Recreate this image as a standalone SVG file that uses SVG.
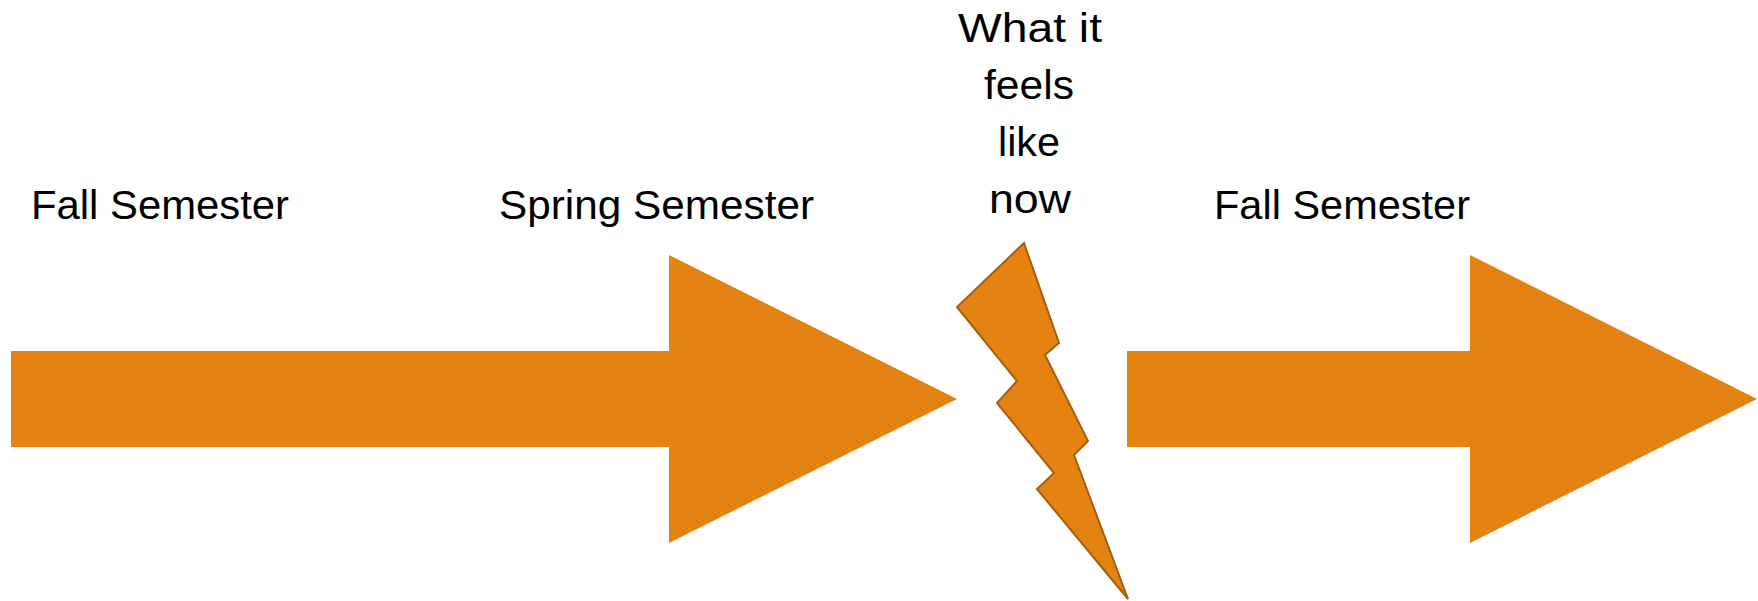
<svg xmlns="http://www.w3.org/2000/svg" width="1758" height="601" viewBox="0 0 1758 601">
<style>
.shape{fill:#E48312;stroke:none}
.bolt{fill:#E48312;stroke:#A65E0E;stroke-width:2;stroke-linejoin:miter}
.lbl{font-family:"Liberation Sans",Arial,sans-serif;font-size:41px;fill:#000}
.mid{text-anchor:middle}
</style>
<rect width="1758" height="601" fill="#fff"/>
<g id="arrow-left">
<polygon class="shape" points="11,351 669,351 669,255 957,399 669,543 669,447 11,447"/>
</g>
<g id="lightning">
<polygon class="bolt" points="1024,243 1059,343 1045,355 1088,441 1074,455 1128,599 1037,489 1054,473 997,403 1017,381 957,307"/>
</g>
<g id="arrow-right">
<polygon class="shape" points="1127,351 1470,351 1470,255 1757,399 1470,543 1470,447 1127,447"/>
</g>
<g id="label-fall1"><text class="lbl" x="31" y="219" textLength="258" lengthAdjust="spacingAndGlyphs">Fall Semester</text></g>
<g id="label-spring"><text class="lbl" x="499" y="219" textLength="315" lengthAdjust="spacingAndGlyphs">Spring Semester</text></g>
<g id="label-now">
<text class="lbl mid" x="1030" y="42" textLength="144" lengthAdjust="spacingAndGlyphs">What it</text>
<text class="lbl mid" x="1029" y="99" textLength="90" lengthAdjust="spacingAndGlyphs">feels</text>
<text class="lbl mid" x="1029" y="156" textLength="62" lengthAdjust="spacingAndGlyphs">like</text>
<text class="lbl mid" x="1030" y="213" textLength="82" lengthAdjust="spacingAndGlyphs">now</text>
</g>
<g id="label-fall2"><text class="lbl" x="1214" y="219" textLength="256" lengthAdjust="spacingAndGlyphs">Fall Semester</text></g>
<g id="connectors"></g>
</svg>
